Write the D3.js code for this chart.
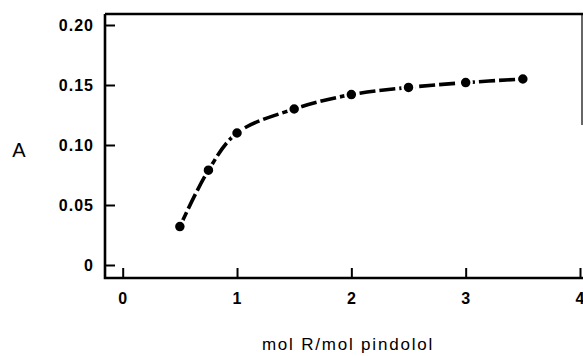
<!DOCTYPE html>
<html>
<head>
<meta charset="utf-8">
<script src="https://cdn.jsdelivr.net/npm/d3@7"></script>
<style>
  body { margin: 0; background: #fff; }
  svg { display: block; }
</style>
</head>
<body>
<script>
var w = 583;
var h = 356;

// data
var ratio = [0.5, 0.75, 1.0, 1.5, 2.0, 2.5, 3.0, 3.5];
var absorb = [0.032, 0.079, 0.110, 0.130, 0.142, 0.148, 0.152, 0.155];
var xTicks = [0, 1, 2, 3, 4];
var yTicks = [0, 0.05, 0.10, 0.15, 0.20];

var svg = d3.select("body").append("svg").attr("width", w).attr("height", h);

var x = d3.scaleLinear().domain([0, 4]).range([122.7, 580]);
var y = d3.scaleLinear().domain([0, 0.2]).range([265, 25]);

var axLeft = 105, axBottom = 278, axTop = 14;

// frame
svg.append("path")
    .attr("d", "M" + axLeft + "," + axTop + "V" + axBottom + "H" + w)
    .attr("fill", "none").attr("stroke", "#000").attr("stroke-width", 2.6);
svg.append("line")
    .attr("x1", axLeft).attr("x2", w).attr("y1", axTop).attr("y2", axTop)
    .attr("stroke", "#000").attr("stroke-width", 2.6);
svg.append("line")
    .attr("x1", 582).attr("x2", 582).attr("y1", axTop).attr("y2", 125)
    .attr("stroke", "#000").attr("stroke-width", 1.2);

var yAxis = svg.append("g")
    .attr("transform", "translate(" + axLeft + ",0)")
    .call(d3.axisLeft(y).tickValues(yTicks).tickSizeInner(-10).tickSizeOuter(0).tickPadding(11)
        .tickFormat(function (d) { return d === 0 ? "0" : d3.format(".2f")(d); }));

var xAxis = svg.append("g")
    .attr("transform", "translate(0," + axBottom + ")")
    .call(d3.axisBottom(x).tickValues(xTicks).tickSizeInner(-10).tickSizeOuter(0).tickPadding(15)
        .tickFormat(d3.format("d")));

[yAxis, xAxis].forEach(function (a) {
    a.select(".domain").remove();
    a.selectAll(".tick line").attr("stroke", "#000").attr("stroke-width", 2);
    a.selectAll(".tick text")
        .attr("fill", "#000")
        .style("font-family", "'Liberation Sans', Arial, sans-serif")
        .style("font-weight", "bold")
        .style("font-size", "16px")
        .style("letter-spacing", "1px");
});

// curve
var pts = ratio.map(function (r, i) { return [r, absorb[i]]; });

var line = d3.line()
    .x(function (d) { return x(d[0]); })
    .y(function (d) { return y(d[1]); })
    .curve(d3.curveCatmullRom.alpha(0.5));

svg.append("path")
    .datum(pts)
    .attr("d", line)
    .attr("fill", "none")
    .attr("stroke", "#000")
    .attr("stroke-width", 3.6)
    .attr("stroke-dasharray", "16,4");

svg.selectAll("circle")
    .data(pts)
    .enter()
    .append("circle")
    .attr("cx", function (d) { return x(d[0]); })
    .attr("cy", function (d) { return y(d[1]); })
    .attr("r", 6)
    .attr("fill", "#000")
    .attr("stroke", "#fff")
    .attr("stroke-width", 2.5);

svg.append("text")
    .attr("x", 19).attr("y", 157)
    .attr("text-anchor", "middle")
    .style("font-family", "'Liberation Sans', Arial, sans-serif")
    .style("font-size", "20px")
    .text("A");

svg.append("text")
    .attr("x", 348).attr("y", 350)
    .attr("text-anchor", "middle")
    .style("font-family", "'Liberation Sans', Arial, sans-serif")
    .style("font-size", "17px")
    .style("letter-spacing", "1.8px")
    .text("mol R/mol pindolol");
</script>
</body>
</html>
